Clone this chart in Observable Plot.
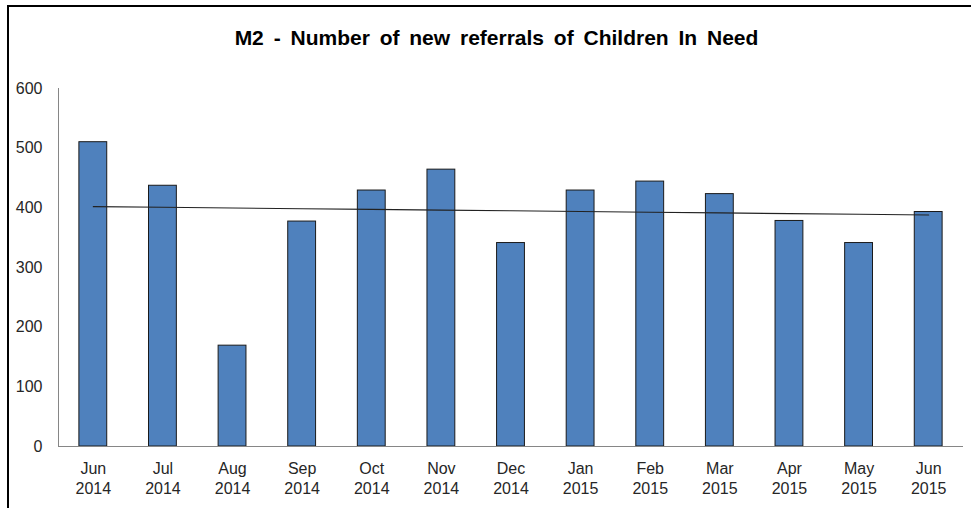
<!DOCTYPE html>
<html>
<head>
<meta charset="utf-8">
<script src="https://cdn.jsdelivr.net/npm/d3@7"></script>
<script src="https://cdn.jsdelivr.net/npm/@observablehq/plot@0.6"></script>
<style>
  html, body { margin: 0; padding: 0; background: #fff; }
  #wrap { position: relative; width: 971px; height: 508px; overflow: hidden; background: #fff; }
  #border { position: absolute; left: 7px; top: 5px; width: 1000px; height: 1000px;
            border-left: 2px solid #000; border-top: 2px solid #000; pointer-events: none; }
  #title { box-sizing: border-box; width: 971px; height: 80px; padding-top: 27px; padding-left: 22px;
           text-align: center; font-family: "Liberation Sans", Arial, sans-serif; font-weight: bold;
           font-size: 21px; line-height: 21px; word-spacing: 4px; color: #000; }
  #chart svg { display: block; }
</style>
</head>
<body>
<div id="wrap">
  <div id="title">M2 - Number of new referrals of Children In Need</div>
  <div id="chart"></div>
  <div id="border"></div>
</div>
<script>
const months = ["Jun", "Jul", "Aug", "Sep", "Oct", "Nov", "Dec", "Jan", "Feb", "Mar", "Apr", "May", "Jun"];
const years = [2014, 2014, 2014, 2014, 2014, 2014, 2014, 2015, 2015, 2015, 2015, 2015, 2015];
const referrals = [510, 437, 169, 377, 429, 464, 341, 429, 444, 423, 378, 341, 393];
const yTicks = [0, 100, 200, 300, 400, 500, 600];

const labels = months.map((m, i) => `${m}\n${years[i]}`);
const data = labels.map((label, i) => ({label, index: i, value: referrals[i]}));

// linear trend line (least squares) over the monthly values
const xMean = d3.mean(data, d => d.index);
const yMean = d3.mean(data, d => d.value);
const slope = d3.sum(data, d => (d.index - xMean) * (d.value - yMean)) / d3.sum(data, d => (d.index - xMean) ** 2);
const intercept = yMean - slope * xMean;
const trend = data.map(d => ({label: d.label, value: intercept + slope * d.index}));

const chart = Plot.plot({
  width: 971,
  height: 428,
  marginTop: 8,
  marginBottom: 62,
  marginLeft: 58,
  marginRight: 8,
  style: {fontFamily: "'Liberation Sans', Arial, sans-serif", color: "#262626", background: "#fff"},
  x: {domain: labels, paddingInner: 0.6, paddingOuter: 0.3, round: false, label: null},
  y: {domain: [0, 600], label: null},
  marks: [
    Plot.barY(data, {x: "label", y: "value", fill: "#4F81BD", stroke: "#1a1a1a", strokeWidth: 1}),
    Plot.frame({anchor: "left", stroke: "#868686"}),
    Plot.ruleY([0], {stroke: "#868686"}),
    Plot.line(trend, {x: "label", y: "value", stroke: "#222", strokeWidth: 1.1}),
    Plot.axisY({ticks: yTicks, tickSize: 0, tickPadding: 16, fontSize: 16, label: null}),
    Plot.axisX({tickSize: 0, tickPadding: 13, fontSize: 16, lineHeight: 1.25, label: null, style: "letter-spacing:0.6px"})
  ]
});
document.getElementById("chart").appendChild(chart);
</script>
</body>
</html>
